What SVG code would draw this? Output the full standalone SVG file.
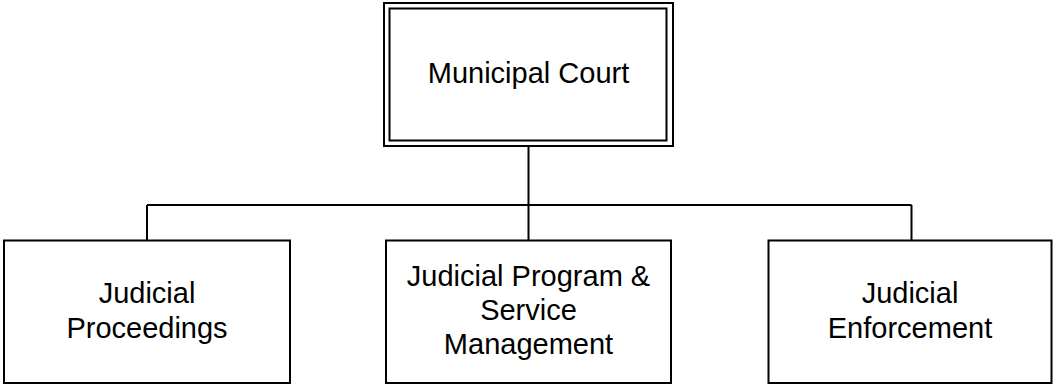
<svg xmlns="http://www.w3.org/2000/svg" width="1054" height="386" viewBox="0 0 1054 386">
  <style>
    .box { fill: #ffffff; stroke: #000000; stroke-width: 2; }
    .thin { fill: none; stroke: #000000; stroke-width: 2; }
    .wire { fill: none; stroke: #000000; stroke-width: 2; }
    .label { font-family: "Liberation Sans", Arial, sans-serif; font-size: 29px; fill: #000000; text-anchor: middle; }
  </style>
  <rect width="1054" height="386" fill="#ffffff"/>

  <!-- org chart connectors -->
  <g id="connectors">
    <path class="wire" d="M528.5 146 V205"/>
    <path class="wire" d="M147 205 H911.5"/>
    <path class="wire" d="M147 205 V240.5"/>
    <path class="wire" d="M528.5 205 V240.5"/>
    <path class="wire" d="M911.5 205 V240.5"/>
  </g>

  <!-- top node with double border -->
  <g id="municipal-court">
    <rect class="box" x="384" y="3" width="289" height="143"/>
    <rect class="thin" x="389.5" y="8.5" width="277" height="132"/>
    <text class="label" x="528.5" y="83">Municipal Court</text>
  </g>

  <g id="judicial-proceedings">
    <rect class="box" x="4" y="240.5" width="286" height="142.5"/>
    <text class="label" x="147" y="303">Judicial</text>
    <text class="label" x="147" y="338">Proceedings</text>
  </g>

  <g id="judicial-program-service-management">
    <rect class="box" x="386" y="240.5" width="285" height="142.5"/>
    <text class="label" x="528.5" y="286">Judicial Program &amp;</text>
    <text class="label" x="528.5" y="320">Service</text>
    <text class="label" x="528.5" y="354">Management</text>
  </g>

  <g id="judicial-enforcement">
    <rect class="box" x="768.5" y="240.5" width="283" height="142.5"/>
    <text class="label" x="910" y="303">Judicial</text>
    <text class="label" x="910" y="338">Enforcement</text>
  </g>
</svg>
